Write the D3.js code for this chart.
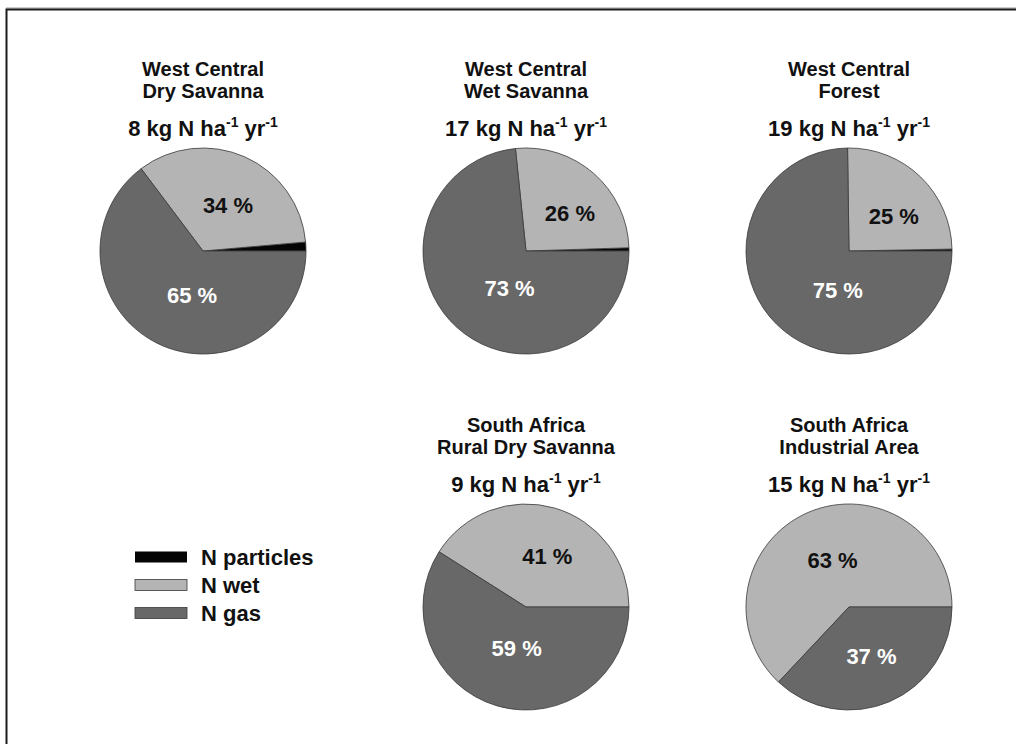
<!DOCTYPE html>
<html>
<head>
<meta charset="utf-8">
<script src="https://cdn.jsdelivr.net/npm/d3@7"></script>
<style>
  html, body { margin: 0; padding: 0; background: #fff; }
  svg { display: block; font-family: "Liberation Sans", Arial, Helvetica, sans-serif; font-weight: bold; }
</style>
</head>
<body>
<svg id="chart" width="1016" height="744"></svg>
<script>
// ---- data ----------------------------------------------------------------
const components = ["N particles", "N wet", "N gas"];
const regions = ["West Central", "West Central", "West Central", "South Africa", "South Africa"];
const ecosystems = ["Dry Savanna", "Wet Savanna", "Forest", "Rural Dry Savanna", "Industrial Area"];
const totalDeposition = [8, 17, 19, 9, 15];          // kg N ha-1 yr-1
const particlesShare = [1.4, 0.5, 0.3, 0, 0];         // %
const wetShare = [34, 26, 25, 41, 63];                // %
const gasShare = [65, 73, 75, 59, 37];                // %

// ---- layout ----------------------------------------------------------------
const W = 1016, H = 744;
const radius = 103;
const colX = d3.scalePoint().domain([0, 1, 2]).range([203, 849]);
const rowY = d3.scalePoint().domain([0, 1]).range([251, 607]);
const cell = [[0, 0], [1, 0], [2, 0], [1, 1], [2, 1]];   // [column, row] per pie
const fills = { "N particles": "#050505", "N wet": "#b4b4b4", "N gas": "#686868" };
const labelFill = { "N wet": "#111", "N gas": "#fff" };
// small shifts of the percentage labels away from the slice centroid
const labelShift = [
  { "N wet": [4, 1],  "N gas": [12, -2] },
  { "N wet": [10, 1], "N gas": [18, -1] },
  { "N wet": [9, 2],  "N gas": [25, 2] },
  { "N wet": [7, -1], "N gas": [5, -8] },
  { "N wet": [4, 0],  "N gas": [2, 2] }
];

const svg = d3.select("#chart");

// outer frame
svg.append("line").attr("x1", 6).attr("x2", W).attr("y1", 8).attr("y2", 8)
  .attr("stroke", "#9a9a9a").attr("stroke-width", 1);
svg.append("path").attr("d", `M6.5,${H + 2}V9.5H${W + 2}`)
  .attr("fill", "none").attr("stroke", "#1c1c1c").attr("stroke-width", 2);

// pie generator: counter-clockwise from 3 o'clock, keeping component order
const pie = d3.pie().sort(null).value(d => d.value)
  .startAngle(Math.PI / 2).endAngle(Math.PI / 2 - 2 * Math.PI);
const arc = d3.arc().innerRadius(0).outerRadius(radius);
const labelArc = d3.arc().innerRadius(radius * 0.5).outerRadius(radius * 0.5);

regions.forEach((region, i) => {
  const cx = colX(cell[i][0]), cy = rowY(cell[i][1]);
  const g = svg.append("g").attr("transform", `translate(${cx},${cy})`);

  const slices = [
    { key: "N particles", value: particlesShare[i] },
    { key: "N wet", value: wetShare[i] },
    { key: "N gas", value: gasShare[i] }
  ].filter(d => d.value > 0);

  const arcs = pie(slices);

  g.selectAll("path.slice").data(arcs).join("path")
    .attr("class", "slice")
    .attr("d", arc)
    .attr("fill", d => fills[d.data.key])
    .attr("stroke", "#3a3a3a")
    .attr("stroke-width", 0.8)
    .attr("stroke-linejoin", "round");

  g.selectAll("text.pct").data(arcs.filter(d => d.data.key !== "N particles")).join("text")
    .attr("class", "pct")
    .attr("transform", d => {
      const [x, y] = labelArc.centroid(d);
      const s = labelShift[i][d.data.key];
      return `translate(${x + s[0]},${y + s[1]})`;
    })
    .attr("text-anchor", "middle")
    .attr("dy", "0.36em")
    .attr("font-size", 22)
    .attr("fill", d => labelFill[d.data.key])
    .text(d => `${d.data.value} %`);

  // titles
  g.append("text").attr("x", 0).attr("y", -175).attr("text-anchor", "middle")
    .attr("font-size", 20).attr("fill", "#111").text(region);
  g.append("text").attr("x", 0).attr("y", -153).attr("text-anchor", "middle")
    .attr("font-size", 20).attr("fill", "#111").text(ecosystems[i]);

  const sub = g.append("text").attr("x", 0).attr("y", -115).attr("text-anchor", "middle")
    .attr("font-size", 22).attr("fill", "#111");
  sub.append("tspan").text(`${totalDeposition[i]} kg N ha`);
  sub.append("tspan").attr("dy", -9).attr("font-size", 14).text("-1");
  sub.append("tspan").attr("dy", 9).text(" yr");
  sub.append("tspan").attr("dy", -9).attr("font-size", 14).text("-1");
});

// legend
const legendY = d3.scalePoint().domain(components).range([557, 613]);
const legend = svg.append("g");
components.forEach(c => {
  legend.append("rect")
    .attr("x", 135).attr("y", legendY(c) - 5.5)
    .attr("width", 52).attr("height", 11)
    .attr("fill", fills[c])
    .attr("stroke", c === "N particles" ? "none" : "#3a3a3a")
    .attr("stroke-width", 0.8);
  legend.append("text")
    .attr("x", 201).attr("y", legendY(c) + 8)
    .attr("font-size", 22).attr("fill", "#111")
    .text(c);
});
</script>
</body>
</html>
